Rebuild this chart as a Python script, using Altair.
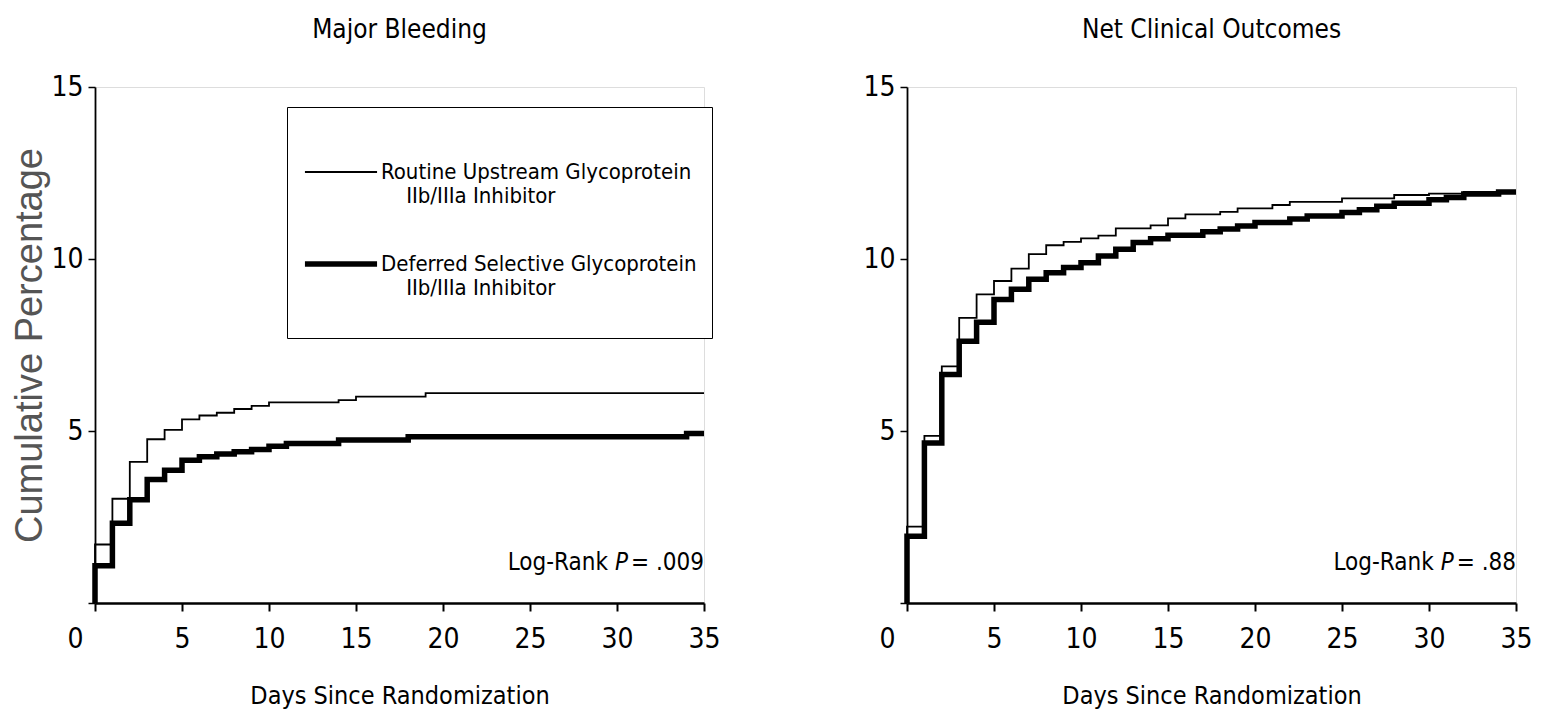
import altair as alt
import pandas as pd

NARROW = "Liberation Sans Narrow, Arial Narrow, DejaVu Sans Condensed, sans-serif"
REGULAR = "Liberation Sans, Arial, sans-serif"
NB = "\u00a0"
ZW = "\u200b"  # zero-width char keeps the non-breaking spaces from being trimmed

ROUTINE = "Routine Upstream Glycoprotein|" + ZW + NB * 4 + "IIb/IIIa Inhibitor"
DEFERRED = "Deferred Selective Glycoprotein|" + ZW + NB * 4 + "IIb/IIIa Inhibitor|" + ZW

# Major Bleeding (cumulative %), step starts
mb_routine_days = [0, 0, 1, 2, 3, 4, 5, 6, 7, 8, 9, 10, 14, 15, 19, 35]
mb_routine_vals = [0, 1.70, 3.03, 4.10, 4.76, 5.03, 5.34, 5.45, 5.53, 5.64, 5.73, 5.83, 5.90, 6.00, 6.10, 6.10]
mb_deferred_days = [0, 0, 1, 2, 3, 4, 5, 6, 7, 8, 9, 10, 11, 14, 18, 34, 35]
mb_deferred_vals = [0, 1.08, 2.32, 3.00, 3.59, 3.86, 4.15, 4.25, 4.33, 4.40, 4.46, 4.56, 4.64, 4.74, 4.83, 4.93, 4.93]

# Net Clinical Outcomes (cumulative %)
nc_routine_days = [0, 0, 1, 2, 3, 4, 5, 6, 7, 8, 9, 10, 11, 12, 14, 15, 16, 18, 19, 21, 22, 25, 28, 30, 32, 35]
nc_routine_vals = [0, 2.22, 4.86, 6.88, 8.29, 8.97, 9.36, 9.72, 10.14, 10.40, 10.50, 10.60, 10.68, 10.89, 10.98,
                   11.18, 11.30, 11.37, 11.47, 11.57, 11.66, 11.76, 11.86, 11.90, 11.95, 11.95]
nc_deferred_days = [0, 0, 1, 2, 3, 4, 5, 6, 7, 8, 9, 10, 11, 12, 13, 14, 15, 17, 18, 19, 20, 22, 23, 25, 26, 27,
                    28, 30, 31, 32, 34, 35]
nc_deferred_vals = [0, 1.94, 4.65, 6.64, 7.61, 8.16, 8.82, 9.12, 9.41, 9.60, 9.75, 9.89, 10.09, 10.28, 10.48, 10.59,
                    10.69, 10.79, 10.87, 10.96, 11.06, 11.16, 11.25, 11.35, 11.43, 11.53, 11.62, 11.72, 11.79,
                    11.89, 11.95, 11.95]

panel_titles = ["Major Bleeding", "Net Clinical Outcomes"]
pvalue_texts = ["= .009", "= .88"]
x_ticks = [0, 5, 10, 15, 20, 25, 30, 35]
y_ticks = [0, 5, 10, 15]

FS_P = 24


def frame(days_r, vals_r, days_d, vals_d):
    rows = []
    for g, ds, vs in [(DEFERRED, days_d, vals_d), (ROUTINE, days_r, vals_r)]:
        for i, (d, v) in enumerate(zip(ds, vs)):
            rows.append({"group": g, "day": d, "pct": v, "idx": i})
    return pd.DataFrame(rows)


def text_width(s, fs):
    em = {"=": 0.754, " ": 0.286, ".": 0.286}
    return sum(em.get(c, 0.572) for c in s) * fs


def panel(df, title, ptext, show_legend, show_ytitle):
    legend = None
    if show_legend:
        legend = alt.Legend(
            title=NB, titleFontSize=10, titlePadding=3,
            orient="none", legendX=192, legendY=20,
            symbolType="stroke", symbolSize=5200, symbolStrokeColor="black",
            labelExpr="split(datum.label, '|')", labelFont=NARROW, labelFontSize=22,
            labelColor="black", labelBaseline="middle", labelOffset=1, labelLimit=1000,
            rowPadding=18, padding=15, strokeColor="black", fillColor="white",
        )
    x_axis = alt.Axis(
        values=x_ticks, title="Days Since Randomization", grid=False, labelFlush=False,
        labelExpr="datum.value == 0 ? '0" + NB * 5 + ZW + "' : datum.label",
        labelFont=NARROW, labelFontSize=28, labelColor="black", labelPadding=14,
        titleFont=NARROW, titleFontSize=25, titleFontWeight="normal", titleColor="black", titlePadding=30,
        tickSize=8, tickWidth=2, tickColor="black", domainColor="black", domainWidth=2.5,
    )
    y_axis = alt.Axis(
        values=y_ticks, title="Cumulative Percentage" if show_ytitle else None, grid=False,
        labelExpr="datum.value == 0 ? '' : datum.label",
        labelFont=NARROW, labelFontSize=28, labelColor="black", labelPadding=5,
        titleFont=REGULAR, titleFontSize=38, titleFontWeight="normal", titleColor="#555555", titlePadding=1,
        tickSize=7, tickWidth=1.5, tickColor="black", domainColor="black", domainWidth=1.8,
    )
    lines = alt.Chart(df).mark_line(interpolate="step-after", color="black").encode(
        x=alt.X("day:Q", scale=alt.Scale(domain=[0, 35], nice=False), axis=x_axis),
        y=alt.Y("pct:Q", scale=alt.Scale(domain=[0, 15], nice=False), axis=y_axis),
        strokeWidth=alt.StrokeWidth("group:N", scale=alt.Scale(domain=[ROUTINE, DEFERRED], range=[1.8, 5.5]),
                                    legend=legend),
        detail="group:N",
        order="idx:Q",
    )
    tdf = pd.DataFrame({"day": [35], "pct": [0.95]})
    base = alt.Chart(tdf).encode(x="day:Q", y="pct:Q")
    wv = text_width(ptext, FS_P) + 3
    wp = 0.543 * FS_P
    t_val = base.mark_text(align="right", baseline="alphabetic", font=NARROW, fontSize=FS_P, color="black").encode(
        text=alt.value(ptext))
    t_p = base.mark_text(align="right", baseline="alphabetic", font=NARROW, fontSize=FS_P, fontStyle="italic",
                         color="black", dx=-wv).encode(text=alt.value("P"))
    t_lr = base.mark_text(align="right", baseline="alphabetic", font=NARROW, fontSize=FS_P, color="black",
                          dx=-(wv + wp + 7)).encode(text=alt.value("Log-Rank"))
    return alt.layer(lines, t_val, t_p, t_lr).properties(
        width=609, height=516,
        title=alt.TitleParams(title, font=NARROW, fontSize=26, fontWeight="normal", color="black",
                              anchor="middle", offset=30),
    )


left = panel(frame(mb_routine_days, mb_routine_vals, mb_deferred_days, mb_deferred_vals),
             panel_titles[0], pvalue_texts[0], True, True)
right = panel(frame(nc_routine_days, nc_routine_vals, nc_deferred_days, nc_deferred_vals),
              panel_titles[1], pvalue_texts[1], False, False)

chart = alt.hconcat(left, right, spacing=141).configure_view(stroke=None).configure_legend(
    strokeWidth=2).configure(background="white").properties(
    padding={"left": 3, "top": 8, "right": 5, "bottom": 0})

chart.save("out.html", embed_options={"renderer": "svg", "actions": False})
